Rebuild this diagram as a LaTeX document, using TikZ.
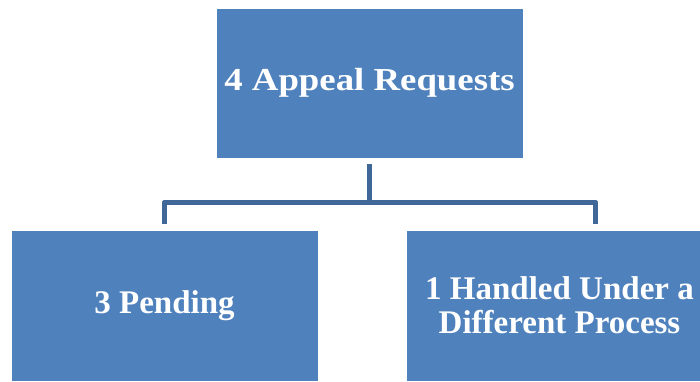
\documentclass[tikz,border=0pt]{standalone}
\usepackage{fontspec}
\setmainfont{Liberation Serif}
\newfontfamily\widefont[FakeStretch=1.15]{Liberation Serif}
\usepackage{tikz}
\definecolor{boxblue}{HTML}{4F81BD}
\definecolor{linkblue}{HTML}{3F6797}
\tikzset{
  countbox/.style={rectangle,fill=boxblue,draw=white,line width=0.6pt,
    minimum width=307pt,minimum height=150pt,inner sep=0pt,
    text=white,align=center,font=\bfseries\fontsize{33}{34}\selectfont},
  link/.style={draw=linkblue,line width=5pt,line join=round}
}

\begin{document}
\begin{tikzpicture}[x=1pt,y=-1pt]
  \useasboundingbox (0,0) rectangle (700,381);
  % parent and the two children
  \node[countbox,font=\widefont\bfseries\fontsize{32}{34}\selectfont] (appeals) at (369.5,83) {4 Appeal Requests};
  \node[countbox,minimum height=151pt] (pending) at (164.5,305.5) {3 Pending};
  \node[countbox,minimum height=151pt] (other) at (559.5,305.5) {1 Handled Under a\\Different Process};
  % bracket
  \coordinate (fork) at (369.5,202);
  \coordinate (otherdrop) at (595.5,224);
  \draw[link] ([yshift=-6pt]appeals.south) -- (fork);
  \draw[link] ([yshift=6pt]pending.north) |- (fork) -| (otherdrop);
\end{tikzpicture}
\end{document}
